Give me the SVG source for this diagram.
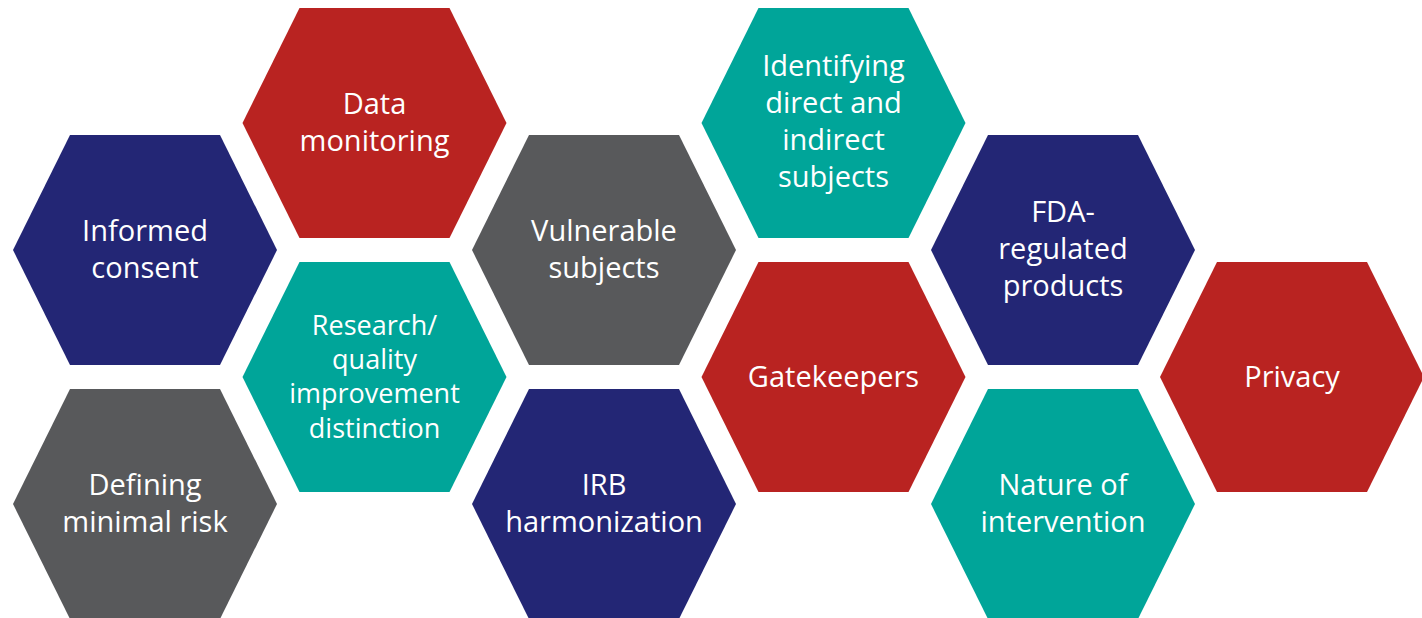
<svg xmlns="http://www.w3.org/2000/svg" width="1422" height="618" viewBox="0 0 1422 618">
  <style>
    .navy { fill: #232675; }
    .red { fill: #B92321; }
    .gray { fill: #58595B; }
    .teal { fill: #00A599; }
    text { font-family: "Open Sans", "Liberation Sans", sans-serif; font-size: 29px; fill: #FFFFFF; text-anchor: middle; }
    text.small { font-size: 27px; }
  </style>
  <defs>
    <!-- flat-top hexagon centred on the origin -->
    <polygon id="hex" points="-132,0 -75,-115 75,-115 132,0 75,115 -75,115"/>
  </defs>

  <g id="informed-consent" transform="translate(145,250)">
    <use href="#hex" class="navy"/>
    <text y="-9">Informed</text>
    <text y="28">consent</text>
  </g>

  <g id="defining-minimal-risk" transform="translate(145,504)">
    <use href="#hex" class="gray"/>
    <text y="-9">Defining</text>
    <text y="28">minimal risk</text>
  </g>

  <g id="data-monitoring" transform="translate(374.5,123)">
    <use href="#hex" class="red"/>
    <text y="-9">Data</text>
    <text y="28">monitoring</text>
  </g>

  <g id="research-qi-distinction" transform="translate(374.5,377)">
    <use href="#hex" class="teal"/>
    <text class="small" y="-42">Research/</text>
    <text class="small" y="-8">quality</text>
    <text class="small" y="26">improvement</text>
    <text class="small" y="61">distinction</text>
  </g>

  <g id="vulnerable-subjects" transform="translate(604,250)">
    <use href="#hex" class="gray"/>
    <text y="-9">Vulnerable</text>
    <text y="28">subjects</text>
  </g>

  <g id="irb-harmonization" transform="translate(604,504)">
    <use href="#hex" class="navy"/>
    <text y="-9">IRB</text>
    <text y="28">harmonization</text>
  </g>

  <g id="identifying-subjects" transform="translate(833.5,123)">
    <use href="#hex" class="teal"/>
    <text y="-47">Identifying</text>
    <text y="-10">direct and</text>
    <text y="27">indirect</text>
    <text y="64">subjects</text>
  </g>

  <g id="gatekeepers" transform="translate(833.5,377)">
    <use href="#hex" class="red"/>
    <text y="10">Gatekeepers</text>
  </g>

  <g id="fda-regulated-products" transform="translate(1063,250)">
    <use href="#hex" class="navy"/>
    <text y="-28">FDA-</text>
    <text y="9">regulated</text>
    <text y="46">products</text>
  </g>

  <g id="nature-of-intervention" transform="translate(1063,504)">
    <use href="#hex" class="teal"/>
    <text y="-9">Nature of</text>
    <text y="28">intervention</text>
  </g>

  <g id="privacy" transform="translate(1292,377)">
    <use href="#hex" class="red"/>
    <text y="10">Privacy</text>
  </g>

  <g id="connectors"/>
</svg>
